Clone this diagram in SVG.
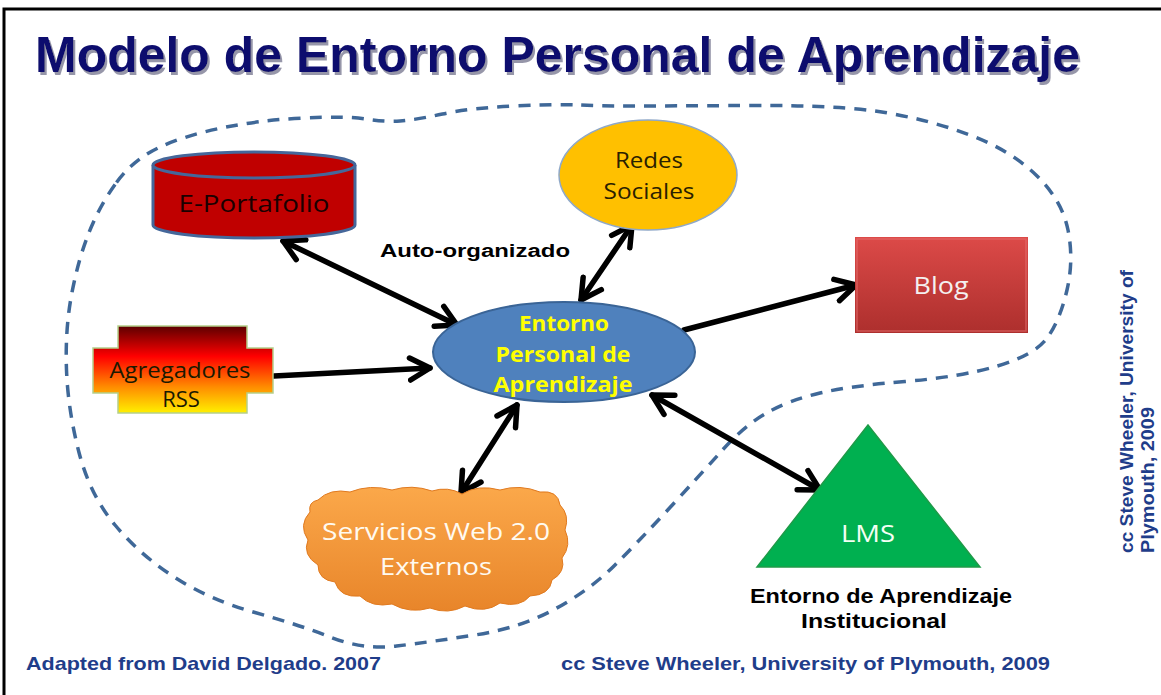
<svg xmlns="http://www.w3.org/2000/svg" width="1161" height="695" viewBox="0 0 1161 695">
<style>
.title{font-family:"Liberation Sans",Arial,sans-serif;font-weight:bold;font-size:50px}
.nt{font-family:"Open Sans","Liberation Sans",sans-serif;text-anchor:middle}
.lbl{font-family:"Liberation Sans",Arial,sans-serif;font-weight:bold;fill:#000}
.credit{font-family:"Liberation Sans",Arial,sans-serif;font-weight:bold;fill:#1f3d8a;font-size:19px}
.conn{stroke:#000;stroke-width:5.5;fill:none;stroke-linecap:round}
</style>
<defs>
<filter id="tshadow" x="-5%" y="-20%" width="110%" height="150%">
<feDropShadow dx="2" dy="3" stdDeviation="0.6" flood-color="#8a8aa0" flood-opacity="0.9"/>
</filter>
<marker id="ah" markerUnits="userSpaceOnUse" markerWidth="30" markerHeight="30" refX="23" refY="14" orient="auto-start-reverse" viewBox="0 0 30 28">
<path d="M3,3 L23,14 L3,25" fill="none" stroke="#000" stroke-width="5.5" stroke-linecap="round" stroke-linejoin="round"/>
</marker>
<linearGradient id="rssg" x1="0" y1="0" x2="0" y2="1">
<stop offset="0" stop-color="#5c0000"/>
<stop offset="0.35" stop-color="#ff0000"/>
<stop offset="0.7" stop-color="#ff8c00"/>
<stop offset="1" stop-color="#fff000"/>
</linearGradient>
<linearGradient id="blogg" x1="0" y1="0" x2="0" y2="1">
<stop offset="0" stop-color="#dc4a48"/>
<stop offset="1" stop-color="#ad2f2d"/>
</linearGradient>
<linearGradient id="cloudg" x1="0" y1="0" x2="0" y2="1">
<stop offset="0" stop-color="#fba84a"/>
<stop offset="1" stop-color="#e8852a"/>
</linearGradient>
</defs>
<rect x="0" y="0" width="1161" height="695" fill="#fff"/>
<path d="M4,695 L4,9 L1161,9" fill="none" stroke="#000" stroke-width="3"/>

<g id="title">
<text class="title" x="35" y="72" fill="#0c0c6e" filter="url(#tshadow)" textLength="1045" lengthAdjust="spacingAndGlyphs">Modelo de Entorno Personal de Aprendizaje</text>
</g>

<g id="boundary">
<path d="M116.5,182.5 Q133,160 158,148 Q183,136 221.5,128 Q260,120 303.5,118 Q347,116 366,119 Q385,122 400,121 Q415,120 442.5,114 Q470,108 515,106 Q560,104 580,105 Q600,106 630,106 Q660,106 750,105.5 Q840,105 885,112.5 Q930,120 970,135 Q1010,150 1036,175 Q1062,200 1068,230 Q1074,260 1067,290 Q1060,320 1047.5,337.5 Q1035,355 997.5,366 Q960,377 905,381.5 Q850,386 820,393 Q790,400 767.5,412.5 Q745,425 722.5,450 Q700,475 670,507.5 Q640,540 615,565 Q590,590 555,609 Q520,628 475,635 Q430,642 396.5,646 Q363,650 331.5,637.5 Q300,625 255,612.5 Q210,600 175,577.5 Q140,555 115,525 Q90,495 79,452.5 Q68,410 66.5,370 Q65,330 71.5,295 Q78,260 89,232.5 Q100,205 116.5,182.5 Z" fill="none" stroke="#3f6898" stroke-width="3.5" stroke-dasharray="12,9"/>
</g>

<g id="connectors">
<line class="conn" x1="283" y1="241" x2="457" y2="325" marker-start="url(#ah)" marker-end="url(#ah)"/>
<line class="conn" x1="632" y1="225" x2="581" y2="300" marker-start="url(#ah)" marker-end="url(#ah)"/>
<line class="conn" x1="274" y1="376" x2="430" y2="368" marker-end="url(#ah)"/>
<line class="conn" x1="684" y1="330" x2="856" y2="285" marker-end="url(#ah)"/>
<line class="conn" x1="517" y1="405" x2="461" y2="493" marker-start="url(#ah)" marker-end="url(#ah)"/>
<line class="conn" x1="652" y1="395" x2="820" y2="490" marker-start="url(#ah)" marker-end="url(#ah)"/>
</g>

<g id="eportafolio">
<path d="M153,165 L153,225 A101,13 0 0 0 355,225 L355,165" fill="#c00000" stroke="#45679a" stroke-width="3"/>
<ellipse cx="254" cy="165" rx="101" ry="13" fill="#c00000" stroke="#45679a" stroke-width="3"/>
<text class="nt" x="254" y="212" font-size="24" fill="#1a0000" textLength="151" lengthAdjust="spacingAndGlyphs">E-Portafolio</text>
</g>

<g id="agregadores">
<path d="M118,326 L247,326 L247,348 L273,348 L273,393 L247,393 L247,413 L118,413 L118,393 L93,393 L93,348 L118,348 Z" fill="url(#rssg)" stroke="#b5cf8a" stroke-width="1.5"/>
<text class="nt" x="180" y="378" font-size="22" fill="#1a1a00" textLength="141" lengthAdjust="spacingAndGlyphs">Agregadores</text>
<text class="nt" x="181" y="407" font-size="22" fill="#1a1a00">RSS</text>
</g>

<g id="redes">
<ellipse cx="648" cy="175" rx="89" ry="55" fill="#ffc000" stroke="#8fa8c8" stroke-width="1.5"/>
<text class="nt" x="649" y="168" font-size="21" fill="#2a2000" textLength="68" lengthAdjust="spacingAndGlyphs">Redes</text>
<text class="nt" x="649" y="199" font-size="21" fill="#2a2000" textLength="91" lengthAdjust="spacingAndGlyphs">Sociales</text>
</g>

<g id="central">
<ellipse cx="564" cy="352" rx="131" ry="50" fill="#4f81bd" stroke="#3a6496" stroke-width="2"/>
<text class="nt" x="564" y="331" font-size="21" font-weight="bold" fill="#ffff00" textLength="90" lengthAdjust="spacingAndGlyphs">Entorno</text>
<text class="nt" x="563" y="362" font-size="21" font-weight="bold" fill="#ffff00" textLength="135" lengthAdjust="spacingAndGlyphs">Personal de</text>
<text class="nt" x="563" y="392" font-size="21" font-weight="bold" fill="#ffff00" textLength="139" lengthAdjust="spacingAndGlyphs">Aprendizaje</text>
</g>

<g id="blog">
<rect x="855" y="237" width="173" height="96" fill="url(#blogg)"/>
<rect x="857" y="239" width="169" height="92" fill="none" stroke="#e87070" stroke-width="1.5" opacity="0.6"/>
<text class="nt" x="941" y="294" font-size="24" fill="#f4f0f0" textLength="55" lengthAdjust="spacingAndGlyphs">Blog</text>
</g>

<g id="lms">
<path d="M868,425 L980,567 L757,567 Z" fill="#00b050" stroke="#1f9a48" stroke-width="1.5"/>
<text class="nt" x="868" y="542" font-size="23" fill="#f4fff4" textLength="54" lengthAdjust="spacingAndGlyphs">LMS</text>
<text class="lbl" x="881" y="603" font-size="20" text-anchor="middle" textLength="262" lengthAdjust="spacingAndGlyphs">Entorno de Aprendizaje</text>
<text class="lbl" x="874" y="628" font-size="20" text-anchor="middle" textLength="146" lengthAdjust="spacingAndGlyphs">Institucional</text>
</g>

<g id="servicios">
<path d="M318,500 Q330,488 350,492 Q370,484 392,490 Q412,484 432,491 Q448,486 462,494 Q478,484 500,490 Q520,484 540,492 Q558,490 560,505 Q570,515 565,530 Q572,545 562,558 Q566,572 552,580 Q550,595 530,596 Q520,608 500,603 Q485,614 465,606 Q448,615 430,608 Q410,614 392,604 Q372,608 360,596 Q340,598 335,582 Q318,580 318,565 Q302,555 308,540 Q298,525 310,512 Q308,502 318,500 Z" fill="url(#cloudg)" stroke="#e07a20" stroke-width="1"/>
<text class="nt" x="436" y="540" font-size="24" fill="#fffaf0" textLength="228" lengthAdjust="spacingAndGlyphs">Servicios Web 2.0</text>
<text class="nt" x="436" y="575" font-size="24" fill="#fffaf0" textLength="112" lengthAdjust="spacingAndGlyphs">Externos</text>
</g>

<g id="label-auto">
<text class="lbl" x="380" y="257" font-size="18" textLength="190" lengthAdjust="spacingAndGlyphs">Auto-organizado</text>
</g>

<g id="credits">
<text class="credit" x="26" y="670" textLength="355" lengthAdjust="spacingAndGlyphs">Adapted from David Delgado. 2007</text>
<text class="credit" x="561" y="670" textLength="489" lengthAdjust="spacingAndGlyphs">cc  Steve Wheeler, University of Plymouth, 2009</text>
<text class="credit" transform="translate(1133,553) rotate(-90)" x="0" y="0" textLength="283" lengthAdjust="spacingAndGlyphs">cc Steve Wheeler, University of</text>
<text class="credit" transform="translate(1154,553) rotate(-90)" x="0" y="0" textLength="146" lengthAdjust="spacingAndGlyphs">Plymouth, 2009</text>
</g>
</svg>
